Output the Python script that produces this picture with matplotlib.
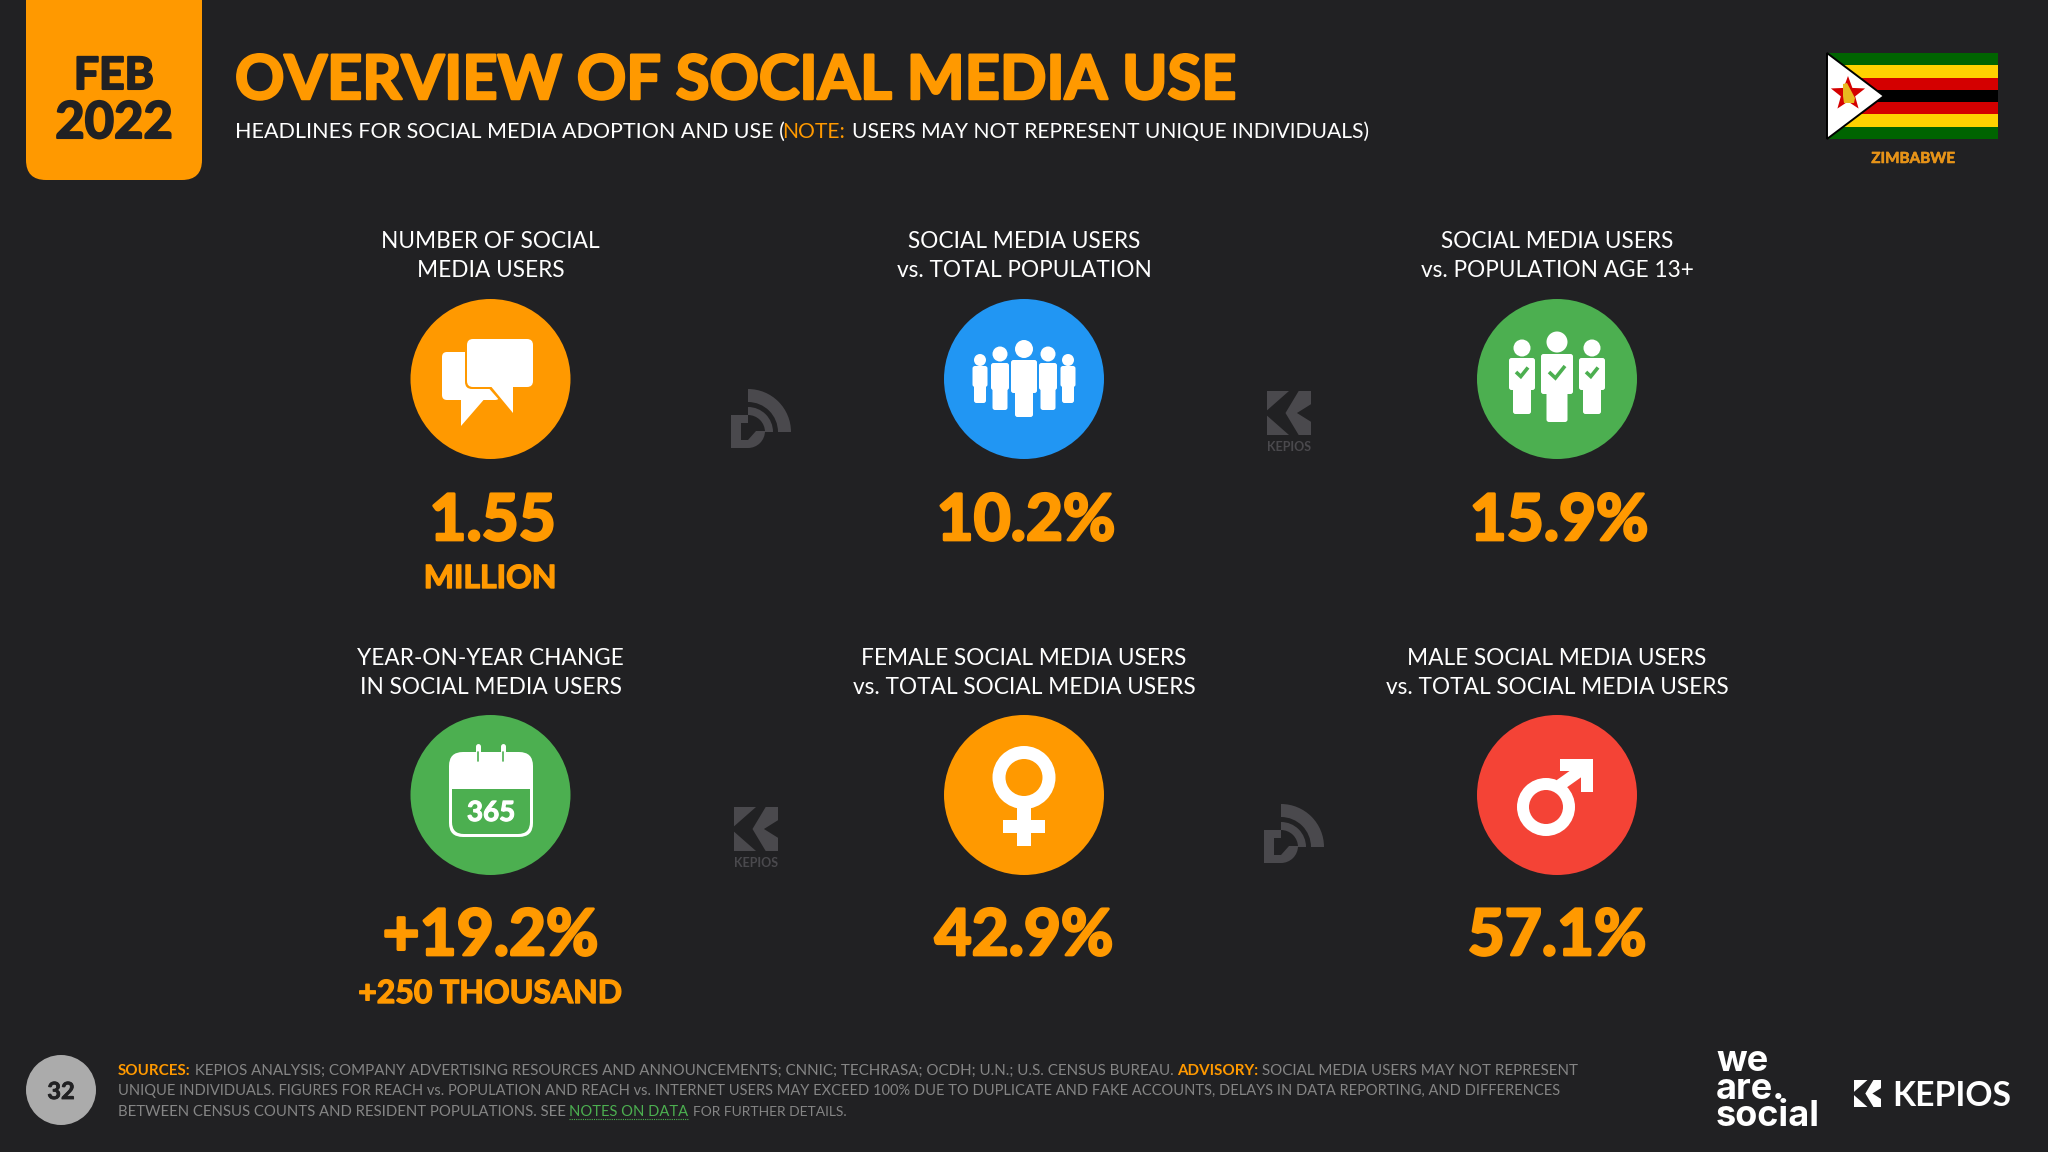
#!/usr/bin/env python3
# -*- coding: utf-8 -*-
"""Overview of social media use, Zimbabwe, Feb 2022."""

import numpy as np
import matplotlib
matplotlib.use("Agg")
import matplotlib.pyplot as plt
import matplotlib.patheffects as pe
from matplotlib.patches import Circle, FancyBboxPatch, Polygon, Rectangle, Wedge

BG = "#212123"
ORANGE = "#FF9900"
BLUE = "#2196F3"
GREEN = "#4CAF50"
RED = "#F44336"
GREY_TEXT = "#858585"
MARK = "#4A494D"
FONT = "Lato"

# tile contents, row by row
tile_labels = [
    ("NUMBER OF SOCIAL", "MEDIA USERS"),
    ("SOCIAL MEDIA USERS", "vs. TOTAL POPULATION"),
    ("SOCIAL MEDIA USERS", "vs. POPULATION AGE 13+"),
    ("YEAR-ON-YEAR CHANGE", "IN SOCIAL MEDIA USERS"),
    ("FEMALE SOCIAL MEDIA USERS", "vs. TOTAL SOCIAL MEDIA USERS"),
    ("MALE SOCIAL MEDIA USERS", "vs. TOTAL SOCIAL MEDIA USERS"),
]
tile_values = ["1.55", "10.2%", "15.9%", "+19.2%", "42.9%", "57.1%"]
tile_subvalues = ["MILLION", "", "", "+250 THOUSAND", "", ""]
tile_colors = [ORANGE, BLUE, GREEN, GREEN, ORANGE, RED]
tile_x = [490.5, 1024, 1557, 490.5, 1024, 1557]
tile_row = [0, 0, 0, 1, 1, 1]

flag_stripes = ["#006400", "#FFD200", "#D40000", "#000000", "#D40000", "#FFD200", "#006400"]

fig = plt.figure(figsize=(20.48, 11.52), dpi=100, facecolor=BG)
ax = fig.add_axes([0, 0, 1, 1])
ax.set_xlim(0, 2048)
ax.set_ylim(1152, 0)
ax.axis("off")
renderer = fig.canvas.get_renderer()


def run_width(s, size, weight):
    # sentinel bar keeps trailing spaces in the measurement
    a = ax.text(0, 0, s + "|", fontsize=size, fontweight=weight, family=FONT)
    b = ax.text(0, 0, "|", fontsize=size, fontweight=weight, family=FONT)
    w = a.get_window_extent(renderer).width - b.get_window_extent(renderer).width
    a.remove()
    b.remove()
    return w


def thicken(t, color, lw):
    t.set_path_effects([pe.withStroke(linewidth=lw, foreground=color)])


def fitted_line(x, y, runs, width, stroke=0):
    """Draw (text, colour, weight) runs on one baseline, scaled to width px."""
    base = sum(run_width(s, 20, wt) for s, c, wt in runs)
    size = 20 * width / base
    for s, c, wt in runs:
        t = ax.text(x, y, s, color=c, fontsize=size, fontweight=wt, family=FONT, va="baseline", ha="left")
        if stroke:
            thicken(t, c, stroke)
        x += run_width(s, size, wt)
    return x


def label(x, y, s, size, color="white", weight="normal", ha="center", stroke=0):
    t = ax.text(x, y, s, color=color, fontsize=size, fontweight=weight, family=FONT, va="baseline", ha=ha, zorder=8)
    if stroke:
        thicken(t, color, stroke)


def rrect(x0, y0, x1, y1, r, color, z=3, **kw):
    p = FancyBboxPatch((x0 + r, y0 + r), x1 - x0 - 2 * r, y1 - y0 - 2 * r,
                       boxstyle=f"round,pad={r},rounding_size={r}", fc=color, ec="none", zorder=z, **kw)
    ax.add_patch(p)


def person(cx, head_y, head_r, body_w, top, bot, leg_w, leg_bot, color="white"):
    ax.add_patch(Circle((cx, head_y), head_r, fc=color, ec="none", zorder=4))
    rrect(cx - body_w / 2, top, cx + body_w / 2, bot, 2.5, color, z=4)
    rrect(cx - leg_w / 2, bot - 6, cx + leg_w / 2, leg_bot, 2.5, color, z=4)


def chat_icon():
    rrect(442, 352, 500, 400, 5, "white", z=3)
    ax.add_patch(Polygon([(461, 396), (461, 426), (487, 396)], fc="white", ec="none", zorder=3))
    rrect(465, 337, 535, 389, 7, ORANGE, z=4)
    ax.add_patch(Polygon([(486, 385), (514, 417), (516, 385)], fc=ORANGE, ec="none", zorder=4))
    rrect(467, 339, 533, 387, 6, "white", z=5)
    ax.add_patch(Polygon([(489, 384), (513, 413), (513, 384)], fc="white", ec="none", zorder=5))


def crowd_icon():
    for dx, (hy, hr, bw, top, bot, lw, lb) in zip(
            [-44, 44, -24, 24, 0],
            [(360, 6, 15, 366, 387, 12, 403), (360, 6, 15, 366, 387, 12, 403),
             (354, 7.5, 18, 363, 390, 15, 410), (354, 7.5, 18, 363, 390, 15, 410),
             (349, 9, 26, 360, 393, 18, 417)]):
        person(1024 + dx, hy, hr, bw, top, bot, lw, lb)


def tick_mark(cx, cy, s):
    ax.plot([cx - s, cx - s * 0.2, cx + s], [cy, cy + s * 0.75, cy - s * 0.75],
            color=GREEN, lw=2.6, solid_capstyle="butt", solid_joinstyle="miter", zorder=6)


def team_icon():
    for dx in (-35, 35):
        person(1557 + dx, 348, 8.5, 26, 358, 390, 18, 414)
        tick_mark(1557 + dx, 372, 6)
    person(1557, 342, 10.5, 32, 354, 394, 21, 422)
    tick_mark(1557, 372, 8)


def calendar_icon():
    rrect(449, 752, 533, 837, 14, "white", z=3)
    rrect(452, 775, 530, 834, 12, GREEN, z=4)
    ax.add_patch(Rectangle((452, 765), 78, 24, fc="white", ec="none", zorder=5))
    for rx in (478, 503):
        ax.plot([rx, rx], [746, 761], color="white", lw=3.6, solid_capstyle="round", zorder=5)
        ax.plot([rx, rx], [752, 761], color=GREEN, lw=1.2, solid_capstyle="round", zorder=6)
    label(491, 821, "365", 20, weight="bold", stroke=0.8)


def female_icon():
    ax.add_patch(Circle((1024, 777.5), 31.5, fc="white", ec="none", zorder=3))
    ax.add_patch(Circle((1024, 777.5), 18.5, fc=ORANGE, ec="none", zorder=4))
    ax.add_patch(Rectangle((1017, 806), 14, 40, fc="white", ec="none", zorder=3))
    ax.add_patch(Rectangle((1003, 820), 42, 13, fc="white", ec="none", zorder=3))


def male_icon():
    ax.plot([1560, 1584], [785, 768], color="white", lw=8.5, solid_capstyle="butt", zorder=3)
    ax.add_patch(Polygon([(1560, 759), (1593, 759), (1593, 792), (1581, 792), (1581, 771), (1560, 771)],
                         fc="white", ec="none", zorder=3))
    ax.add_patch(Circle((1546, 807), 29, fc="white", ec="none", zorder=3))
    ax.add_patch(Circle((1546, 807), 17, fc=RED, ec="none", zorder=4))


def reportal_mark(dx, dy):
    cx, cy = 748 + dx, 432 + dy
    ax.add_patch(Wedge((cx, cy), 43, 270, 360, width=13, fc=MARK, ec="none", zorder=2))
    ax.add_patch(Wedge((cx, cy), 25, 270, 360, width=8, fc=MARK, ec="none", zorder=2))
    ax.add_patch(Rectangle((731 + dx, 415 + dy), 17, 33, fc=MARK, ec="none", zorder=2))
    ax.add_patch(Wedge((cx, 431 + dy), 17, 0, 90, fc=MARK, ec="none", zorder=2))
    ax.add_patch(Polygon([(741 + dx, 423 + dy), (748 + dx, 423 + dy), (756 + dx, 431 + dy), (748 + dx, 440 + dy), (741 + dx, 440 + dy)],
                         fc=BG, ec="none", zorder=3))


def kepios_square(x, y, s, fg, bg):
    ax.add_patch(Rectangle((x, y), s, s, fc=fg, ec="none", zorder=2))
    chevron = [(0.5, 0), (0.72, 0), (0.42, 0.5), (0.72, 1), (0.5, 1), (0, 0.56), (0, 0.44)]
    notch = [(1, 0.3), (0.68, 0.5), (1, 0.7)]
    for pts in (chevron, notch):
        ax.add_patch(Polygon([(x + px * s, y + py * s) for px, py in pts], fc=bg, ec="none", zorder=3))


def kepios_mark(x, y):
    kepios_square(x, y, 44, MARK, BG)
    label(x + 22, y + 60, "KEPIOS", 9, color=MARK, weight="bold")


# header
ax.add_patch(FancyBboxPatch((46, -40), 136, 200, boxstyle="round,pad=20,rounding_size=20",
                            fc=ORANGE, ec="none", zorder=1))
label(114, 89, "FEB", 32, color=BG, weight="bold", stroke=1.5)
label(114, 138, "2022", 36.5, color=BG, weight="bold", stroke=1.5)
fitted_line(235, 99, [("OVERVIEW OF SOCIAL MEDIA USE", ORANGE, "bold")], 1001, stroke=1.8)
fitted_line(235, 138, [("HEADLINES FOR SOCIAL MEDIA ADOPTION AND USE (", "white", "normal")], 547)
fitted_line(782, 138, [("NOTE:", ORANGE, "normal")], 63)
fitted_line(852, 138, [("USERS MAY NOT REPRESENT UNIQUE INDIVIDUALS)", "white", "normal")], 517)

# flag
for i, c in enumerate(flag_stripes):
    ax.add_patch(Rectangle((1827, 53 + i * 86 / 7), 171, 86 / 7, fc=c, ec="none", zorder=1))
ax.add_patch(Polygon([(1827, 53), (1884, 96), (1827, 139)], fc="white", ec="black", lw=1.4, zorder=2))
ang = np.deg2rad(np.arange(-90, 270, 36))
rad = np.where(np.arange(10) % 2 == 0, 18, 7.5)
ax.add_patch(Polygon(np.c_[1848 + rad * np.cos(ang), 94 + rad * np.sin(ang)], fc="#D40000", ec="none", zorder=3))
ax.add_patch(Polygon([(1843, 84), (1847, 83), (1855, 98), (1854, 103), (1844, 103), (1843, 96)], fc="#E8B820", ec="none", zorder=4))
label(1913, 163, "ZIMBABWE", 11, color="#E69318", weight="bold", stroke=0.4)

# tiles
row_label_y = [(248, 277), (665, 694)]
row_circle_y = [379, 795]
row_value_y = [540, 955]
row_sub_y = [588, 1003]
for (l1, l2), val, sub, col, x, r in zip(tile_labels, tile_values, tile_subvalues, tile_colors, tile_x, tile_row):
    label(x, row_label_y[r][0], l1, 16.3)
    label(x, row_label_y[r][1], l2, 16.3)
    ax.add_patch(Circle((x, row_circle_y[r]), 80, fc=col, ec="none", zorder=2))
    label(x + (2 if r == 0 else 0), row_value_y[r], val, 46, color=ORANGE, weight="bold", stroke=2)
    if sub:
        label(x, row_sub_y[r], sub, 23, color=ORANGE, weight="bold", stroke=1)

chat_icon()
crowd_icon()
team_icon()
calendar_icon()
female_icon()
male_icon()
reportal_mark(0, 0)
reportal_mark(533, 415)
kepios_mark(1267, 391)
kepios_mark(734, 807)

# footer
ax.add_patch(Circle((61, 1090), 35, fc="#ABABAB", ec="none"))
label(61, 1099, "32", 17, color=BG, weight="bold", stroke=0.6)
fitted_line(118, 1075, [("SOURCES:", ORANGE, "bold"),
                        (" KEPIOS ANALYSIS; COMPANY ADVERTISING RESOURCES AND ANNOUNCEMENTS; CNNIC; TECHRASA; OCDH; U.N.; U.S. CENSUS BUREAU. ", GREY_TEXT, "normal"),
                        ("ADVISORY:", ORANGE, "bold"),
                        (" SOCIAL MEDIA USERS MAY NOT REPRESENT", GREY_TEXT, "normal")], 1454)
fitted_line(118, 1095, [("UNIQUE INDIVIDUALS. FIGURES FOR REACH vs. POPULATION AND REACH vs. INTERNET USERS MAY EXCEED 100% DUE TO DUPLICATE AND FAKE ACCOUNTS, DELAYS IN DATA REPORTING, AND DIFFERENCES", GREY_TEXT, "normal")], 1431)
fitted_line(118, 1116, [("BETWEEN CENSUS COUNTS AND RESIDENT POPULATIONS. SEE", GREY_TEXT, "normal")], 445)
fitted_line(569, 1116, [("NOTES ON DATA", GREEN, "normal")], 119)
fitted_line(693, 1116, [("FOR FURTHER DETAILS.", GREY_TEXT, "normal")], 154)
ax.plot([569, 689], [1119, 1119], color=GREEN, lw=0.8, ls=(0, (1, 1)))

ax.text(1716, 1126, "we\nare.\nsocial", color="white", fontsize=26, fontweight="bold", family="Inter",
        ha="left", va="baseline", linespacing=0.78, zorder=8)
kepios_square(1854, 1080, 27, "white", BG)
fitted_line(1892, 1106, [("KEPIOS", "white", "bold")], 119)

fig.savefig("out.png", dpi=100, facecolor=BG)
